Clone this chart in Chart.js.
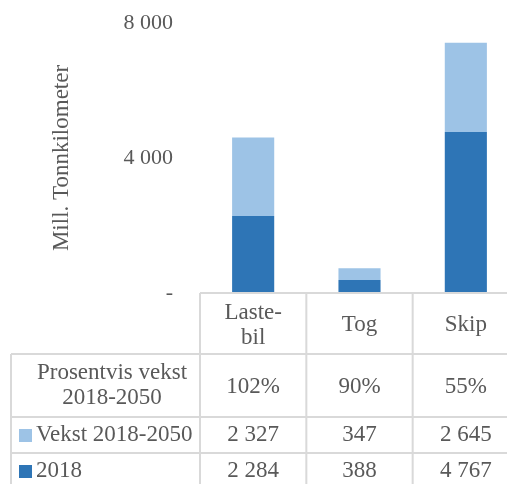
<!DOCTYPE html>
<html>
<head>
<meta charset="utf-8">
<script src="https://cdn.jsdelivr.net/npm/chart.js@4"></script>
<style>
  html, body { margin: 0; padding: 0; background: #fff; overflow: hidden; }
  #wrap { width: 507px; height: 484px; overflow: hidden; }
</style>
</head>
<body>
<div id="wrap"><canvas id="transportChart" width="519" height="484"></canvas></div>
<script>
const categories = [['Laste-', 'bil'], 'Tog', 'Skip'];
const values2018 = [2284, 388, 4767];
const valuesVekst = [2327, 347, 2645];
const percentGrowth = ['102%', '90%', '55%'];
const seriesNames = ['Vekst 2018-2050', '2018'];
const rowTitle = ['Prosentvis vekst', '2018-2050'];

const FONT = '"Liberation Serif", "Times New Roman", serif';
const TEXT = '#595959';
const DARK = '#2E75B6';
const LIGHT = '#9DC3E6';

const fmt = v => String(v).replace(/\B(?=(\d{3})+(?!\d))/g, ' ');

// tabellen under grafen, tegnet ut fra x-skalaen
const dataTable = {
    id: 'dataTable',
    afterDraw(chart) {
        const ctx = chart.ctx;
        const xs = chart.scales.x;
        const area = chart.chartArea;
        const n = categories.length;
        const step = xs.getPixelForTick(1) - xs.getPixelForTick(0);
        const colLeft = i => xs.getPixelForTick(0) + (i - 0.5) * step;
        const top = area.bottom;
        const rows = [top, top + 61, top + 124, top + 160, top + 196];
        const left = 11;
        const right = colLeft(n);

        ctx.save();
        ctx.strokeStyle = '#d9d9d9';
        ctx.lineWidth = 2;
        ctx.beginPath();
        ctx.moveTo(area.left, rows[0]); ctx.lineTo(right, rows[0]);
        for (let r = 1; r < rows.length; r++) {
            ctx.moveTo(left, rows[r]); ctx.lineTo(right, rows[r]);
        }
        ctx.moveTo(left, rows[1]); ctx.lineTo(left, rows[4]);
        for (let i = 0; i <= n; i++) {
            ctx.moveTo(colLeft(i), rows[0]); ctx.lineTo(colLeft(i), rows[4]);
        }
        ctx.stroke();

        ctx.fillStyle = TEXT;
        ctx.font = '23px ' + FONT;
        ctx.textAlign = 'center';
        ctx.textBaseline = 'middle';
        categories.forEach((c, i) => {
            const cx = xs.getPixelForTick(i);
            if (Array.isArray(c)) {
                ctx.fillText(c[0], cx, top + 20);
                ctx.fillText(c[1], cx, top + 45);
            } else {
                ctx.fillText(c, cx, top + 32);
            }
            ctx.fillText(percentGrowth[i], cx, top + 94);
            ctx.fillText(fmt(valuesVekst[i]), cx, top + 142);
            ctx.fillText(fmt(values2018[i]), cx, top + 178);
        });
        ctx.fillText(rowTitle[0], 112, top + 80);
        ctx.fillText(rowTitle[1], 112, top + 105);

        ctx.textAlign = 'left';
        ctx.fillStyle = LIGHT;
        ctx.fillRect(19, top + 136, 13, 13);
        ctx.fillStyle = DARK;
        ctx.fillRect(19, top + 172, 13, 13);
        ctx.fillStyle = TEXT;
        ctx.fillText(seriesNames[0], 36, top + 142);
        ctx.fillText(seriesNames[1], 36, top + 178);
        ctx.restore();
    }
};

const ctx = document.getElementById('transportChart').getContext('2d');
const chart = new Chart(ctx, {
    type: 'bar',
    data: {
        labels: categories,
        datasets: [{
            label: seriesNames[1],
            data: values2018,
            backgroundColor: DARK,
            categoryPercentage: 1,
            barPercentage: 0.396,
        }, {
            label: seriesNames[0],
            data: valuesVekst,
            backgroundColor: LIGHT,
            categoryPercentage: 1,
            barPercentage: 0.396,
        }]
    },
    options: {
        responsive: false,
        animation: false,
        layout: { padding: { top: 23, bottom: 191, left: 0, right: 0 } },
        plugins: {
            legend: { display: false },
            tooltip: { enabled: false }
        },
        scales: {
            x: {
                stacked: true,
                display: false
            },
            y: {
                stacked: true,
                min: 0,
                max: 8000,
                afterFit: scale => {
                    scale.width = 200;
                    scale.paddingTop = 0; // ellers legges tick-padding til toppen
                    scale.paddingBottom = 0;
                },
                grid: { display: false, drawTicks: false },
                border: { display: false },
                ticks: {
                    stepSize: 4000,
                    padding: 27,
                    color: TEXT,
                    font: { family: FONT, size: 22 },
                    callback: v => v === 0 ? '-' : fmt(v)
                },
                title: {
                    display: true,
                    text: 'Mill. Tonnkilometer',
                    color: TEXT,
                    font: { family: FONT, size: 23, lineHeight: 1.2 },
                    padding: { top: 48, bottom: 0 }
                }
            }
        }
    },
    plugins: [dataTable]
});
</script>
</body>
</html>
